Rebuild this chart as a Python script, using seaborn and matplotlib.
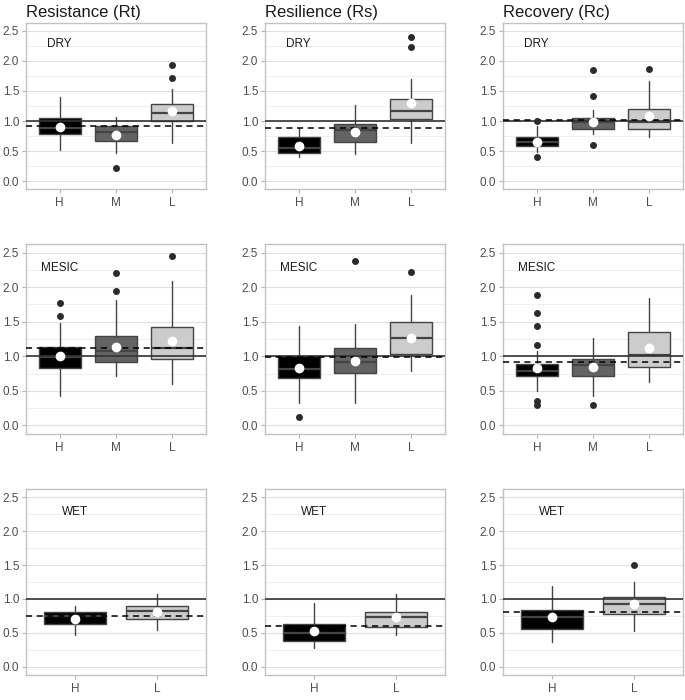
import numpy as np
import pandas as pd
import matplotlib
matplotlib.use("Agg")
import matplotlib.pyplot as plt
import seaborn as sns

# ==============================
# Data
# ==============================

indices = ["Resistance (Rt)", "Resilience (Rs)", "Recovery (Rc)"]
habitats = ["DRY", "MESIC", "WET"]
groups = [["H", "M", "L"], ["H", "M", "L"], ["H", "L"]]
fills = {"H": "#000000", "M": "#636363", "L": "#cccccc"}

# [habitat][index][group]
whislo = [
    [[0.52, 0.47, 0.63], [0.40, 0.46, 0.63], [0.49, 0.78, 0.73]],
    [[0.42, 0.72, 0.60], [0.33, 0.33, 0.78], [0.50, 0.43, 0.63]],
    [[0.47, 0.54], [0.28, 0.47], [0.37, 0.53]],
]
q1 = [
    [[0.79, 0.67, 1.00], [0.47, 0.65, 1.04], [0.59, 0.87, 0.87]],
    [[0.83, 0.91, 0.96], [0.68, 0.76, 1.04], [0.71, 0.71, 0.84]],
    [[0.63, 0.70], [0.38, 0.58], [0.56, 0.77]],
]
med = [
    [[0.89, 0.82, 1.14], [0.55, 0.86, 1.16], [0.66, 0.99, 0.99]],
    [[0.99, 1.08, 1.12], [0.82, 0.91, 1.27], [0.79, 0.87, 1.02]],
    [[0.74, 0.82], [0.50, 0.73], [0.73, 0.92]],
]
q3 = [
    [[1.05, 0.92, 1.28], [0.74, 0.95, 1.36], [0.73, 1.05, 1.20]],
    [[1.13, 1.29, 1.43], [1.01, 1.12, 1.49], [0.89, 0.96, 1.35]],
    [[0.81, 0.89], [0.63, 0.81], [0.84, 1.03]],
]
whishi = [
    [[1.40, 1.07, 1.53], [0.89, 1.26, 1.70], [0.92, 1.19, 1.66]],
    [[1.48, 1.81, 2.09], [1.44, 1.47, 1.89], [1.08, 1.27, 1.84]],
    [[0.90, 1.07], [0.94, 1.07], [1.19, 1.25]],
]
means = [
    [[0.91, 0.77, 1.16], [0.59, 0.82, 1.30], [0.65, 0.98, 1.09]],
    [[1.00, 1.14, 1.22], [0.83, 0.93, 1.27], [0.83, 0.84, 1.12]],
    [[0.71, 0.81], [0.52, 0.73], [0.73, 0.93]],
]
outliers = [
    [[[], [0.22], [1.93, 1.72]],
     [[], [], [2.39, 2.23]],
     [[1.00, 0.40], [1.84, 1.41, 0.60], [1.87]]],
    [[[1.77, 1.58], [2.21, 1.94], [2.45]],
     [[0.12], [2.38], [2.22]],
     [[1.88, 1.62, 1.44, 1.16, 0.35, 0.29], [0.30], []]],
    [[[], []],
     [[], []],
     [[], [1.50]]],
]
dashed_ref = [
    [0.92, 0.88, 1.01],
    [1.12, 0.99, 0.92],
    [0.75, 0.60, 0.81],
]

# ==============================
# Style
# ==============================

sns.set_theme(style="whitegrid")
plt.rcParams["font.family"] = ["Liberation Sans", "DejaVu Sans"]

W, H = 685, 700
col_left = [26, 265, 503]
panel_w = 180
row_top = [23, 244, 489]
row_bot = [189, 434, 675]

fig = plt.figure(figsize=(W / 100, H / 100), dpi=100)

for r, hab in enumerate(habitats):
    cats = groups[r]
    n = len(cats)
    pos = np.arange(n)
    for c, idx in enumerate(indices):
        ax = fig.add_axes([
            col_left[c] / W,
            1 - row_bot[r] / H,
            panel_w / W,
            (row_bot[r] - row_top[r]) / H,
        ])

        # grid
        ax.set_axisbelow(True)
        ax.set_yticks(np.arange(0, 2.51, 0.5))
        ax.set_yticks(np.arange(0.25, 2.5, 0.5), minor=True)
        ax.grid(which="major", color="#e0e0e0", linewidth=0.8)
        ax.grid(which="minor", axis="y", color="#e9e9e9", linewidth=0.5)

        # boxes
        stats = []
        for g in range(n):
            stats.append({
                "med": med[r][c][g], "q1": q1[r][c][g], "q3": q3[r][c][g],
                "whislo": whislo[r][c][g], "whishi": whishi[r][c][g],
                "fliers": [],
            })
        bp = ax.bxp(stats, positions=pos, widths=0.75, patch_artist=True,
                    showfliers=False, showcaps=False,
                    boxprops=dict(edgecolor="#444444", linewidth=1.0),
                    medianprops=dict(color="#444444", linewidth=1.6),
                    whiskerprops=dict(color="#444444", linewidth=1.0),
                    zorder=2)
        for patch, g in zip(bp["boxes"], cats):
            patch.set_facecolor(fills[g])

        # reference lines
        ax.axhline(1.0, color="#333333", linewidth=1.2, zorder=3)
        ax.axhline(dashed_ref[r][c], color="black", linewidth=1.1,
                   linestyle=(0, (4, 3)), zorder=3)

        # outliers
        out_df = pd.DataFrame(
            [(cats[g], v) for g in range(n) for v in outliers[r][c][g]],
            columns=["group", "value"],
        )
        if len(out_df):
            sns.stripplot(data=out_df, x="group", y="value", order=cats,
                          jitter=False, color="#2b2b2b", size=5,
                          linewidth=0, ax=ax, zorder=4)

        # means
        mean_df = pd.DataFrame({"group": cats, "value": means[r][c]})
        sns.stripplot(data=mean_df, x="group", y="value", order=cats,
                      jitter=False, color="white", size=7,
                      linewidth=0, ax=ax, zorder=5)

        ax.text(0, 2.28, hab, ha="center", va="center", fontsize=8.5,
                color="#1a1a1a", zorder=6)

        ax.set_xlim(-0.6, n - 0.4)
        ax.set_ylim(-0.125, 2.625)
        ax.set_xticks(pos)
        ax.set_xticklabels(cats)
        ax.set_xlabel("")
        ax.set_ylabel("")
        ax.tick_params(axis="both", which="major", labelsize=8.5,
                       labelcolor="#4d4d4d", color="#b3b3b3",
                       length=3, width=0.8, pad=2, left=True, bottom=True)
        ax.tick_params(axis="x", pad=3)
        ax.tick_params(which="minor", length=0)
        for sp in ax.spines.values():
            sp.set_color("#c2c2c2")
            sp.set_linewidth(1.0)

        if r == 0:
            ax.set_title(idx, loc="left", fontsize=12, color="#1a1a1a",
                         pad=4, x=0.0)

fig.savefig("out.png", dpi=100)
